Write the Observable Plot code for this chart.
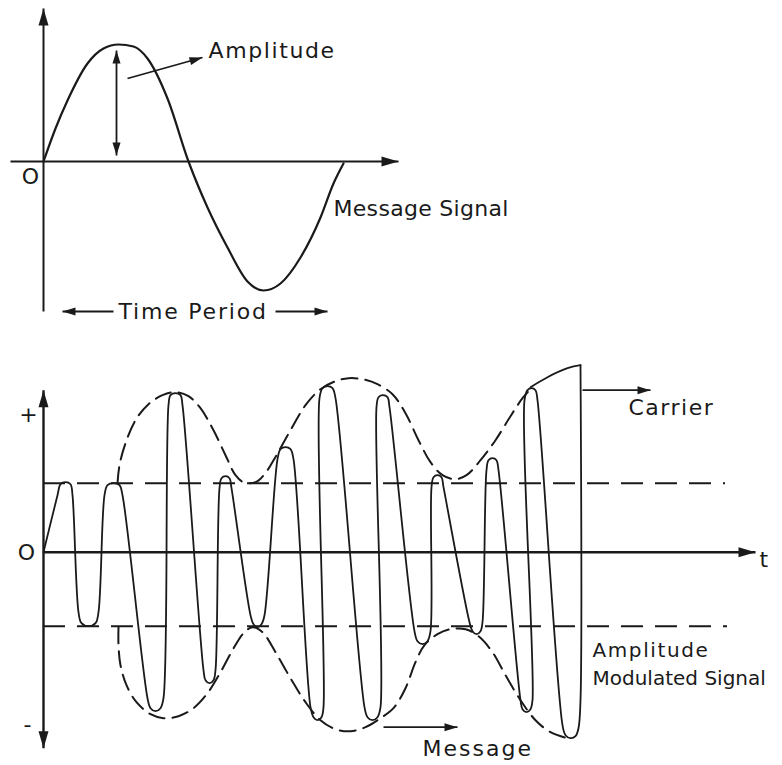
<!DOCTYPE html>
<html><head><meta charset="utf-8">
<script src="https://cdn.jsdelivr.net/npm/d3@7"></script>
<script src="https://cdn.jsdelivr.net/npm/@observablehq/plot@0.6"></script>
<style>
html,body{margin:0;padding:0;background:#fff;}
#chart svg{display:block;}
</style></head><body><div id="chart"></div>
<script>
// ===== Top panel: message signal (t = time units, a = amplitude units) =====
const messageSignal = [[0,0],[12,33],[24,61],[44,98],[60,113],[75,117],[90,115],[104,103],[124,63],[145,0],
  [164,-46],[184,-86],[204,-120],[220,-129],[237,-122],[257,-96],[277,-56],[290,-22],[300,-2]];
const topAxisLines = [{t1:-33,a1:0,t2:355,a2:0},{t1:0,a1:-150,t2:0,a2:153}];
const topAxisHeads = [{t:355,a:0,angle:0},{t:0,a:153,angle:-90}];
const topPointerLines = [{t1:73,a1:6,t2:73,a2:111},{t1:84,a1:83,t2:159,a2:104},
  {t1:70,a1:-150,t2:19,a2:-150},{t1:232,a1:-150,t2:284,a2:-150}];
const topPointerHeads = [{t:73,a:111,angle:-90},{t:73,a:6,angle:90},{t:159,a:104,angle:-16},
  {t:19,a:-150,angle:180},{t:284,a:-150,angle:0}];
const topLabels = [{t:165,a:104,text:"Amplitude"},{t:290,a:-54,text:"Message Signal"},{t:75,a:-157,text:"Time Period"}];
const topCenterLabels = [{t:-13,a:-22,text:"O"}];

// ===== Bottom panel: amplitude modulated signal =====
const carrierWave = [[0,0],[14,57],[17,68],[22,70],[27,68],[29,57],
  [35,-60],[38,-71],[45,-74],[52,-71],[55,-60],
  [61,57],[64,67],[70,69],[76,67],[79,57],
  [104,-146],[107,-156],[112,-159],[117,-156],[120,-146],
  [125,147],[127,157],[132,159],[137,157],[139,147],
  [160,-118],[162,-128],[166,-131],[170,-128],[172,-118],
  [176,64],[178,74],[182,76],[186,74],[188,64],
  [207,-63],[210,-72],[214,-75],[218,-72],[221,-63],
  [234,93],[237,103],[242,105],[247,103],[250,93],
  [267,-155],[270,-165],[274,-168],[278,-165],[280,-155],
  [276,154],[279,164],[284,166],[289,164],[292,154],
  [321,-155],[324,-165],[329,-168],[334,-165],[337,-155],
  [333,145],[335,155],[339,157],[344,155],[346,145],
  [371,-79],[374,-89],[379,-92],[384,-89],[387,-79],
  [388,65],[390,75],[394,77],[398,75],[400,65],
  [426,-70],[429,-79],[433,-82],[437,-79],[439,-70],
  [443,82],[445,92],[449,94],[453,92],[455,82],
  [477,-148],[479,-157],[483,-160],[487,-157],[489,-148],
  [481,152],[484,162],[488,164],[492,162],[494,152],
  [519,-173],[522,-183],[527,-186],[532,-184],[535,-176],
  [537,-148],[537,187]];
const carrierTopArc = [[487,165],[504,175],[524,184],[537,187]];
const upperEnvelope = [[74,69],[76,87],[82,109],[92,132],[105,148],[119,157],[132,160],[145,156],[157,144],
  [170,122],[182,97],[192,77],[200,70],[212,70],[221,78],[233,97],[247,122],[262,147],[277,163],[292,171],
  [305,174],[319,173],[334,168],[349,158],[362,139],[375,112],[387,90],[399,77],[412,73],[423,77],[437,92],
  [452,112],[467,136],[479,154],[487,163]];
const lowerEnvelope = [[75,-75],[75,-93],[77,-113],[83,-133],[93,-150],[107,-162],[120,-166],[135,-164],
  [150,-156],[164,-141],[177,-120],[189,-98],[200,-81],[209,-75],[219,-80],[232,-100],[247,-126],[262,-150],
  [277,-168],[292,-177],[307,-179],[322,-175],[337,-166],[350,-156],[362,-136],[372,-110],[381,-93],
  [394,-82],[407,-77],[422,-77],[435,-84],[449,-100],[462,-123],[477,-148],[492,-168],[507,-180],[524,-186]];
const referenceLevels = [{a:69,t2:682},{a:-74,t2:684}];
const botAxisLines = [{t1:0,a1:0,t2:712,a2:0},{t1:0,a1:-196,t2:0,a2:162}];
const botAxisHeads = [{t:712,a:0,angle:0},{t:0,a:162,angle:-90},{t:0,a:-196,angle:90}];
const botPointerLines = [{t1:539,a1:162,t2:607,a2:162},{t1:340,a1:-175,t2:414,a2:-175}];
const botPointerHeads = [{t:607,a:162,angle:0},{t:414,a:-175,angle:0}];
const botLabels = [{t:585,a:137,text:"Carrier"},{t:379,a:-204,text:"Message"},{t:716,a:-15,text:"t"}];
const botSmallLabels = [{t:549,a:-105,text:"Amplitude"},{t:549,a:-133,text:"Modulated Signal"}];
const botCenterLabels = [{t:-17,a:-8,text:"O"}];
const botSignLabels = [{t:-15,a:137,text:"+"},{t:-16,a:-173,text:"-"}];

// ===== styling =====
const INK = "#1a1a1a";
const FONT = "DejaVu Sans";
const spacing = {"Amplitude":"1.6px","Time Period":"1.8px","Carrier":"1.5px","Message":"2px","Message Signal":"0.3px"};
function head(len, half) {
  return {draw(ctx) { ctx.moveTo(0,0); ctx.lineTo(-len,-half); ctx.lineTo(-len,half); ctx.closePath(); }};
}
const bigHead = head(17, 5);
const smallHead = head(13, 4);

function panel(height, yZero, marks) {
  return Plot.plot({
    width: 782, height, margin: 0,
    x: {type: "linear", domain: [0, 100], range: [43, 143], axis: null},
    y: {type: "linear", domain: [0, 100], range: [yZero, yZero - 100], axis: null},
    style: {background: "white", overflow: "visible"},
    marks
  });
}
const P = (d) => d[0], A = (d) => d[1];
const linkOpts = (w) => ({x1:"t1", y1:"a1", x2:"t2", y2:"a2", stroke: INK, strokeWidth: w});
const headOpts = (sym) => ({x:"t", y:"a", rotate:"angle", symbol: sym, fill: INK, stroke: "none", r: 5});
const textOpts = (size, anchor, line) => ({x:"t", y:"a", text:"text", fontFamily: FONT, fontSize: size,
  textAnchor: anchor, lineAnchor: line, fill: INK});

const topChart = panel(340, 161, [
  Plot.link(topAxisLines, linkOpts(2)),
  Plot.dot(topAxisHeads, headOpts(bigHead)),
  Plot.line(messageSignal, {x: P, y: A, curve: "monotone-x", stroke: INK, strokeWidth: 2.2}),
  Plot.link(topPointerLines, linkOpts(1.8)),
  Plot.dot(topPointerHeads, headOpts(smallHead)),
  Plot.text(topLabels, textOpts(22, "start", "bottom")),
  Plot.text(topCenterLabels, textOpts(22, "middle", "bottom"))
]);

const bottomChart = panel(425, 211.7, [
  Plot.ruleY(referenceLevels, {y: "a", x1: 0, x2: "t2", stroke: INK, strokeWidth: 2, strokeDasharray: "22,12"}),
  Plot.line(upperEnvelope, {x: P, y: A, curve: "catmull-rom", stroke: INK, strokeWidth: 2, strokeDasharray: "16,8"}),
  Plot.line(lowerEnvelope, {x: P, y: A, curve: "catmull-rom", stroke: INK, strokeWidth: 2, strokeDasharray: "16,8"}),
  Plot.link(botAxisLines, linkOpts(2.4)),
  Plot.dot(botAxisHeads, headOpts(bigHead)),
  Plot.line(carrierWave, {x: P, y: A, curve: "catmull-rom", stroke: INK, strokeWidth: 1.8}),
  Plot.line(carrierTopArc, {x: P, y: A, curve: "natural", stroke: INK, strokeWidth: 1.8}),
  Plot.link(botPointerLines, linkOpts(1.8)),
  Plot.dot(botPointerHeads, headOpts(smallHead)),
  Plot.text(botLabels, textOpts(22, "start", "bottom")),
  Plot.text(botSmallLabels, textOpts(20, "start", "bottom")),
  Plot.text(botCenterLabels, textOpts(22, "middle", "bottom")),
  Plot.text(botSignLabels, textOpts(22, "middle", "middle"))
]);

const root = document.getElementById("chart");
root.append(topChart, bottomChart);
d3.select(root).selectAll("text").each(function () {
  const s = spacing[this.textContent];
  if (s) this.setAttribute("letter-spacing", s);
});
</script>
</body></html>
